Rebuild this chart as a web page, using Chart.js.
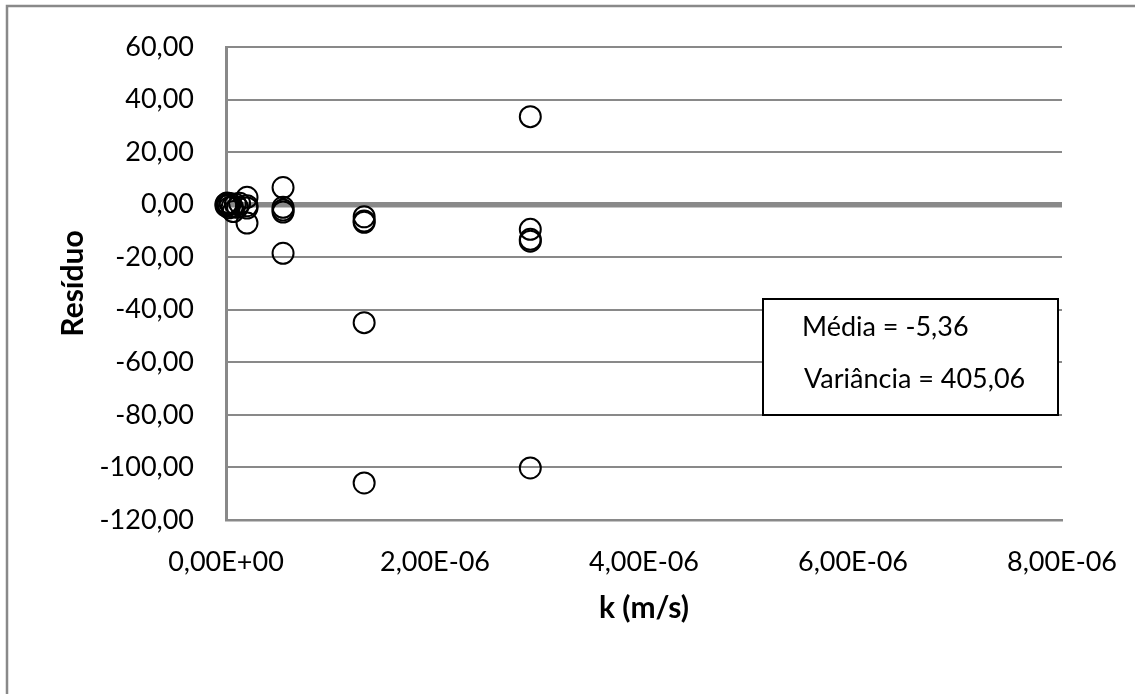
<!DOCTYPE html>
<html lang="pt">
  <head>
    <meta charset="UTF-8" />
    <title>Resíduo x k</title>
    <script src="https://cdn.jsdelivr.net/npm/chart.js"></script>
    <style>
      body {
        margin: 0;
        padding: 0;
        background: #ffffff;
      }
      #residuoCanvas {
        display: block;
      }
    </style>
  </head>
  <body>
    <canvas id="residuoCanvas" width="1135" height="694"></canvas>

    <script>
      // condutividade hidraulica (m/s) e residuo de cada ensaio
      const kValues = [
        0, 0, 1e-8, 2e-8, 3e-8, 4e-8, 6e-8, 7e-8, 9e-8, 1.1e-7, 1.3e-7,
        2.01e-7, 2.01e-7, 2.01e-7, 2.01e-7,
        5.46e-7, 5.46e-7, 5.46e-7, 5.46e-7, 5.46e-7,
        1.322e-6, 1.322e-6, 1.322e-6, 1.322e-6, 1.322e-6,
        2.912e-6, 2.912e-6, 2.912e-6, 2.912e-6, 2.912e-6,
      ];
      const residuals = [
        0.3, -0.5, 0.6, -0.2, -1.2, 0.4, -0.8, -2.6, 0.2, -1.0, 0.5,
        2.8, -0.4, -1.3, -7.0,
        6.5, -1.0, -2.0, -2.8, -18.5,
        -4.6, -6.2, -6.7, -44.9, -105.9,
        33.5, -9.4, -13.2, -13.9, -100.2,
      ];

      const xTickValues = [0, 2e-6, 4e-6, 6e-6, 8e-6];
      const xTickLabels = ["0,00E+00", "2,00E-06", "4,00E-06", "6,00E-06", "8,00E-06"];
      const yTickValues = [-120, -100, -80, -60, -40, -20, 0, 20, 40, 60];
      const yTickLabels = [
        "-120,00", "-100,00", "-80,00", "-60,00", "-40,00",
        "-20,00", "0,00", "20,00", "40,00", "60,00",
      ];
      const statLines = ["Média = -5,36", "Variância = 405,06"];

      const gray = "#898989";

      // moldura externa do grafico
      const frame = {
        id: "frame",
        beforeDraw(chart) {
          const ctx = chart.ctx;
          ctx.save();
          ctx.strokeStyle = gray;
          ctx.lineWidth = 2.5;
          ctx.strokeRect(7, 6, 1200, 800);
          ctx.restore();
        },
      };

      // caixa com media e variancia
      const statsBox = {
        id: "statsBox",
        afterDatasetsDraw(chart) {
          const { ctx, chartArea } = chart;
          const x = chartArea.right - 299;
          const y = chartArea.top + 252;
          const w = 295;
          const h = 116;
          ctx.save();
          ctx.fillStyle = "#ffffff";
          ctx.fillRect(x, y, w, h);
          ctx.strokeStyle = "#000000";
          ctx.lineWidth = 2;
          ctx.strokeRect(x, y, w, h);
          ctx.fillStyle = "#000000";
          ctx.font = "27px Lato";
          ctx.textBaseline = "middle";
          ctx.fillText(statLines[0], x + 39, y + 28);
          ctx.fillText(statLines[1], x + 41, y + 80);
          ctx.restore();
        },
      };

      const ctx = document.getElementById("residuoCanvas");

      new Chart(ctx, {
        type: "scatter",
        data: {
          datasets: [
            {
              label: "Resíduo",
              data: kValues.map((k, i) => ({ x: k, y: residuals[i] })),
              pointStyle: "circle",
              pointRadius: 10.5,
              pointHoverRadius: 10.5,
              borderWidth: 2,
              borderColor: "#000000",
              backgroundColor: "rgba(0,0,0,0)",
              clip: false,
            },
          ],
        },
        options: {
          responsive: false,
          animation: false,
          devicePixelRatio: 1,
          layout: {
            padding: { left: 0, right: 73, top: 47, bottom: 54 },
          },
          plugins: {
            legend: { display: false },
            tooltip: { enabled: false },
          },
          scales: {
            x: {
              type: "linear",
              min: 0,
              max: 8e-6,
              afterBuildTicks: (scale) => {
                scale.ticks = xTickValues.map((v) => ({ value: v }));
              },
              afterFit: (scale) => {
                scale.height = 120;
                scale.paddingLeft = 0;
                scale.paddingRight = 0;
              },
              grid: { display: false, drawTicks: false },
              border: { display: true, color: gray, width: 2.5 },
              ticks: {
                padding: 26,
                color: "#000000",
                font: { family: "Lato", size: 27 },
                maxRotation: 0,
                callback: (value, index) => xTickLabels[index],
              },
              title: {
                display: true,
                text: "k (m/s)",
                color: "#000000",
                font: { family: "Lato", size: 30, weight: "bold" },
                padding: { top: 0, bottom: 14 },
              },
            },
            y: {
              type: "linear",
              min: -120,
              max: 60,
              afterBuildTicks: (scale) => {
                scale.ticks = yTickValues.map((v) => ({ value: v }));
              },
              afterFit: (scale) => {
                scale.width = 226;
                scale.paddingTop = 0;
                scale.paddingBottom = 0;
              },
              grid: {
                color: gray,
                drawTicks: false,
                lineWidth: (c) => (c.tick && c.tick.value === 0 ? 5.5 : 2),
              },
              border: { display: true, color: gray, width: 3 },
              ticks: {
                padding: 32,
                color: "#000000",
                font: { family: "Lato", size: 27 },
                callback: (value, index) => yTickLabels[index],
              },
              title: {
                display: true,
                text: "Resíduo",
                color: "#000000",
                font: { family: "Lato", size: 30, weight: "bold" },
                padding: { top: 55, bottom: 0 },
              },
            },
          },
        },
        plugins: [frame, statsBox],
      });
    </script>
  </body>
</html>
